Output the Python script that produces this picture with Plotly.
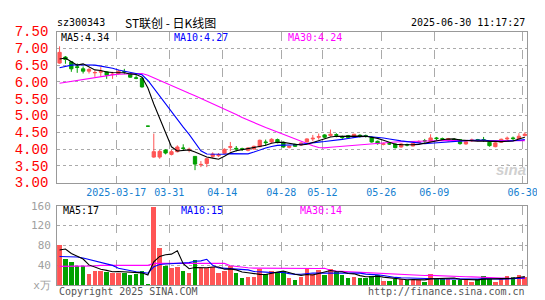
import plotly.graph_objects as go
import pandas as pd

# ---------------- data ----------------
dates = [
    '2025-03-03', '2025-03-04', '2025-03-05', '2025-03-06', '2025-03-07',
    '2025-03-10', '2025-03-11', '2025-03-12', '2025-03-13', '2025-03-14',
    '2025-03-17', '2025-03-18', '2025-03-19', '2025-03-20', '2025-03-21',
    '2025-03-25', '2025-03-26', '2025-03-27', '2025-03-28', '2025-03-31',
    '2025-04-01', '2025-04-02', '2025-04-03', '2025-04-07', '2025-04-08',
    '2025-04-09', '2025-04-10', '2025-04-11', '2025-04-14', '2025-04-15',
    '2025-04-16', '2025-04-17', '2025-04-18', '2025-04-21', '2025-04-22',
    '2025-04-23', '2025-04-24', '2025-04-25', '2025-04-28', '2025-04-29',
    '2025-04-30', '2025-05-06', '2025-05-07', '2025-05-08', '2025-05-09',
    '2025-05-12', '2025-05-13', '2025-05-14', '2025-05-15', '2025-05-16',
    '2025-05-19', '2025-05-20', '2025-05-21', '2025-05-22', '2025-05-23',
    '2025-05-26', '2025-05-27', '2025-05-28', '2025-05-29', '2025-05-30',
    '2025-06-03', '2025-06-04', '2025-06-05', '2025-06-06', '2025-06-09',
    '2025-06-10', '2025-06-11', '2025-06-12', '2025-06-13', '2025-06-16',
    '2025-06-17', '2025-06-18', '2025-06-19', '2025-06-20', '2025-06-23',
    '2025-06-24', '2025-06-25', '2025-06-26', '2025-06-27', '2025-06-30',
]

opens = [6.56, 6.74, 6.60, 6.45, 6.39, 6.32, 6.27, 6.29, 6.30, 6.22,
         6.25, 6.31, 6.23, 6.12, 6.11, 4.68, 3.76, 3.76, 3.97, 3.84,
         3.92, 4.03, 3.97, 3.78, 3.53, 3.57, 3.78, 3.80, 3.87, 4.05,
         4.02, 4.01, 3.96, 4.00, 4.07, 4.21, 4.21, 4.28, 4.20, 4.05,
         4.14, 4.12, 4.21, 4.30, 4.35, 4.42, 4.40, 4.43, 4.37, 4.40,
         4.35, 4.41, 4.40, 4.35, 4.23, 4.14, 4.16, 4.15, 4.06, 4.13,
         4.09, 4.19, 4.25, 4.22, 4.33, 4.31, 4.25, 4.29, 4.28, 4.15,
         4.25, 4.28, 4.28, 4.20, 4.07, 4.20, 4.30, 4.33, 4.30, 4.40]

highs = [7.06, 6.77, 6.62, 6.55, 6.46, 6.41, 6.34, 6.44, 6.32, 6.30,
         6.37, 6.39, 6.25, 6.20, 6.15, 4.68, 4.46, 3.97, 3.99, 3.97,
         4.11, 4.14, 4.04, 3.78, 3.64, 3.74, 3.90, 3.88, 4.02, 4.21,
         4.09, 4.04, 4.05, 4.10, 4.28, 4.28, 4.32, 4.31, 4.22, 4.10,
         4.16, 4.20, 4.32, 4.42, 4.46, 4.44, 4.58, 4.47, 4.40, 4.42,
         4.45, 4.44, 4.43, 4.37, 4.25, 4.19, 4.19, 4.17, 4.17, 4.16,
         4.19, 4.26, 4.30, 4.44, 4.36, 4.34, 4.33, 4.32, 4.29, 4.24,
         4.31, 4.30, 4.36, 4.22, 4.20, 4.31, 4.37, 4.37, 4.47, 4.50]

lows = [6.54, 6.54, 6.30, 6.27, 6.25, 6.25, 6.15, 6.15, 6.09, 6.09,
        6.22, 6.23, 6.13, 6.08, 5.83, 4.68, 3.74, 3.71, 3.84, 3.81,
        3.90, 3.95, 3.90, 3.37, 3.46, 3.46, 3.74, 3.76, 3.85, 3.93,
        3.93, 3.94, 3.93, 3.98, 4.05, 4.09, 4.18, 4.17, 4.04, 4.02,
        4.06, 4.10, 4.20, 4.23, 4.28, 4.32, 4.37, 4.35, 4.30, 4.31,
        4.33, 4.34, 4.34, 4.19, 4.13, 4.11, 4.12, 4.02, 4.04, 4.08,
        4.08, 4.17, 4.19, 4.20, 4.26, 4.25, 4.22, 4.24, 4.13, 4.13,
        4.21, 4.23, 4.21, 4.07, 4.05, 4.18, 4.26, 4.27, 4.28, 4.38]

closes = [6.88, 6.67, 6.39, 6.43, 6.32, 6.37, 6.28, 6.31, 6.20, 6.23,
          6.32, 6.30, 6.14, 6.11, 5.85, 4.68, 3.92, 3.93, 3.88, 3.92,
          4.06, 4.02, 3.99, 3.55, 3.54, 3.71, 3.85, 3.83, 3.99, 4.07,
          4.00, 3.99, 4.03, 4.08, 4.26, 4.19, 4.29, 4.19, 4.06, 4.08,
          4.08, 4.18, 4.30, 4.32, 4.37, 4.35, 4.44, 4.41, 4.34, 4.34,
          4.44, 4.39, 4.38, 4.21, 4.16, 4.15, 4.15, 4.04, 4.15, 4.12,
          4.17, 4.21, 4.24, 4.33, 4.31, 4.29, 4.31, 4.27, 4.16, 4.22,
          4.27, 4.26, 4.27, 4.10, 4.18, 4.29, 4.32, 4.31, 4.38, 4.44]

volumes = [82, 54, 48, 40, 40, 23, 29, 30, 28, 26,
           26, 25, 22, 23, 29, 4, 158, 76, 40, 35,
           37, 29, 25, 52, 35, 35, 37, 25, 29, 39,
           25, 15, 18, 18, 34, 24, 29, 27, 29, 15,
           11, 18, 36, 24, 32, 22, 34, 27, 21, 15,
           18, 16, 16, 20, 21, 9, 9, 13, 13, 11,
           11, 11, 8, 23, 13, 13, 13, 11, 11, 11,
           8, 13, 19, 13, 8, 13, 19, 17, 21, 17]

# moving-average values at the left edge (their windows start before the chart)
ma5_head = [6.68, 6.71, 6.60, 6.50]
ma10_head = [6.42, 6.47, 6.50, 6.51, 6.51, 6.51, 6.50, 6.47, 6.44]
ma30_head = [5.96, 5.99, 6.02, 6.05, 6.08, 6.11, 6.14, 6.17, 6.19, 6.21,
             6.23, 6.24, 6.25, 6.26, 6.25, 6.20, 6.12, 6.04, 5.97, 5.90,
             5.82, 5.74, 5.66, 5.59, 5.51, 5.43, 5.35, 5.27, 5.20]
vma5_head = [71, 73, 64, 58]
vma10_head = [58, 58, 58, 57, 55, 52, 49, 46, 43]
vma30_head = [38, 38, 38, 39, 39, 39, 39, 40, 40, 40,
              40, 40, 40, 40, 40, 40, 44, 44, 44, 44,
              44, 44, 45, 45, 45, 45, 45, 44, 44]

price_ticks = [3.0, 3.5, 4.0, 4.5, 5.0, 5.5, 6.0, 6.5, 7.0, 7.5]
vol_ticks = [0, 40, 80, 120, 160]
vol_tick_text = ['x万', '40', '80', '120', '160']
tick_dates = ['2025-03-17', '2025-03-31', '2025-04-14', '2025-04-28',
              '2025-05-12', '2025-05-26', '2025-06-09', '2025-06-30']
tick_labels = ['2025-03-17', '03-31', '04-14', '04-28',
               '05-12', '05-26', '06-09', '06-30']

# ---------------- styles ----------------
W, H = 545, 300
UP, DOWN = '#ff5555', '#00a000'
MONO = 'DejaVu Sans Mono'


def moving_avg(values, n, head):
    s = pd.Series(values, dtype=float).rolling(n).mean().tolist()
    return list(head) + s[len(head):]


x = list(range(len(dates)))
ma5 = moving_avg(closes, 5, ma5_head)
ma10 = moving_avg(closes, 10, ma10_head)
ma30 = moving_avg(closes, 30, ma30_head)
vma5 = moving_avg(volumes, 5, vma5_head)
vma10 = moving_avg(volumes, 10, vma10_head)
vma30 = moving_avg(volumes, 30, vma30_head)

vol_colors = []
for i in range(len(dates)):
    if closes[i] > opens[i]:
        vol_colors.append(UP)
    elif closes[i] < opens[i]:
        vol_colors.append(DOWN)
    else:
        vol_colors.append(UP if i > 0 and closes[i] >= closes[i - 1] else DOWN)

tick_pos = [dates.index(d) - 0.37 for d in tick_dates]

fig = go.Figure()
fig.add_trace(go.Candlestick(
    x=x, open=opens, high=highs, low=lows, close=closes,
    increasing=dict(line=dict(color=UP, width=1), fillcolor=UP),
    decreasing=dict(line=dict(color=DOWN, width=1), fillcolor=DOWN),
    whiskerwidth=0, xaxis='x', yaxis='y', hoverinfo='skip'))
for ys, col in [(ma30, '#ff00ff'), (ma10, '#0000ff'), (ma5, '#000000')]:
    fig.add_trace(go.Scatter(x=x, y=ys, mode='lines', xaxis='x', yaxis='y',
                             line=dict(color=col, width=1.1), hoverinfo='skip'))

fig.add_trace(go.Bar(x=x, y=volumes, width=0.78, xaxis='x2', yaxis='y2',
                     marker=dict(color=vol_colors, line=dict(width=0)),
                     hoverinfo='skip'))
for ys, col in [(vma30, '#ff00ff'), (vma10, '#0000ff'), (vma5, '#000000')]:
    fig.add_trace(go.Scatter(x=x, y=ys, mode='lines', xaxis='x2', yaxis='y2',
                             line=dict(color=col, width=1.1), hoverinfo='skip'))

xdom = [50 / W, 529 / W]
xr = [-0.42, len(dates) - 0.58]
common_x = dict(range=xr, tickmode='array', tickvals=tick_pos, showgrid=True,
                gridcolor='#aaaaaa', griddash='dash', gridwidth=1, zeroline=False,
                showline=True, linecolor='#999999', linewidth=1, mirror=True,
                ticks='', fixedrange=True)

fig.update_layout(
    width=W, height=H, autosize=False,
    margin=dict(l=0, r=0, t=0, b=0),
    paper_bgcolor='white', plot_bgcolor='white',
    showlegend=False, boxgap=0.2, bargap=0,
    xaxis=dict(domain=xdom, anchor='y', ticktext=tick_labels,
               tickfont=dict(family=MONO, size=10, color='#1580d0'),
               rangeslider=dict(visible=False), **common_x),
    xaxis2=dict(domain=xdom, anchor='y2', matches='x', showticklabels=False,
                **common_x),
    yaxis=dict(domain=[(H - 177) / H, (H - 17.5) / H], range=[3.0, 7.5],
               tickmode='array', tickvals=price_ticks,
               ticktext=['%.2f' % v for v in price_ticks],
               tickfont=dict(family='Liberation Mono', size=14, color='#ff0000'),
               showgrid=True, gridcolor='#aaaaaa', griddash='dot', zeroline=False,
               showline=True, linecolor='#999999', mirror=True, ticks='',
               ticklabelstandoff=5),
    yaxis2=dict(domain=[(H - 285.5) / H, (H - 201.5) / H], range=[0, 160],
                tickmode='array', tickvals=vol_ticks, ticktext=vol_tick_text,
                tickfont=dict(family=MONO, size=11, color='#a0a0a0'),
                showgrid=True, gridcolor='#aaaaaa', griddash='dot', zeroline=False,
                showline=True, linecolor='#999999', mirror=True, ticks='',
                ticklabelstandoff=3),
)


def note(text, px, py, color='#000000', size=10, anchor='left', family=MONO, **kw):
    fig.add_annotation(text=text, x=px / W, y=(H - py) / H, xref='paper', yref='paper',
                       xanchor=anchor, yanchor='middle', showarrow=False,
                       font=dict(family=family, size=size, color=color, **kw))


note('sz300343', 48, 8, size=10)
note('ST联创 - 日K线图', 117, 8, size=12, family='Noto Sans CJK SC')
note('2025-06-30 11:17:27', 529, 8, size=10, anchor='right')
note('MA5:4.34', 52, 23.5)
note('MA10:4.27', 167, 23.5, color='#0000ff')
note('MA30:4.24', 283, 23.5, color='#ff00ff')
note('MA5:17', 54, 206.5)
note('MA10:15', 174, 206.5, color='#0000ff')
note('MA30:14', 295, 206.5, color='#ff00ff')
note('Copyright 2025 SINA.COM', 50, 292.5, color='#555555')
note('http://finance.sina.com.cn', 529, 292.5, color='#555555', anchor='right')
note('sina', 512, 163, color='#d0d0d0', size=15, anchor='center',
     family='Liberation Sans', weight='bold', style='italic')

fig.write_html('out.html')
